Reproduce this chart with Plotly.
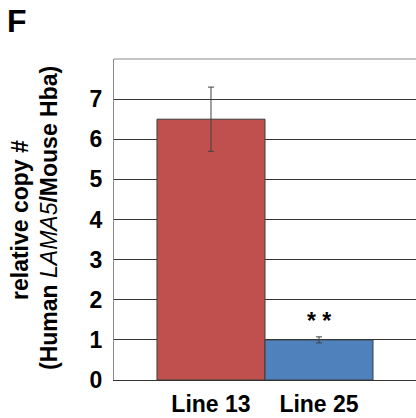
import plotly.graph_objects as go

categories = ["Line 13", "Line 25"]
values = [6.5, 1.0]
errors = [0.8, 0.075]
colors = ["#C0504D", "#4F81BD"]
y_ticks = [0, 1, 2, 3, 4, 5, 6, 7]

FONT = "Liberation Sans, Arial, sans-serif"

fig = go.Figure()
fig.add_trace(go.Bar(
    x=list(range(len(categories))),
    y=values,
    width=1.0,
    marker=dict(color=colors, line=dict(color="#3c3c3c", width=1)),
    error_y=dict(type="data", array=errors, visible=True, color="#404040", thickness=1, width=3),
    showlegend=False,
    hoverinfo="skip",
))

fig.update_layout(
    width=416, height=418,
    margin=dict(l=114, r=0, t=59, b=38),
    paper_bgcolor="white", plot_bgcolor="white",
    font=dict(family=FONT, color="black"),
    xaxis=dict(
        range=[-0.898, 1.898],
        tickvals=list(range(len(categories))),
        ticktext=categories,
        tickfont=dict(size=23, family=FONT, color="black", weight="bold"),
        showgrid=False, zeroline=False,
        showline=True, linecolor="#333333", linewidth=1,
        ticks="", ticklabelstandoff=3, automargin=False,
    ),
    yaxis=dict(
        range=[0, 8],
        tickvals=y_ticks,
        tickfont=dict(size=23, family=FONT, color="black", weight="bold"),
        showgrid=True, gridcolor="#333333", gridwidth=1,
        zeroline=False,
        showline=True, linecolor="#8a8a8a", linewidth=1,
        ticks="", ticklabelstandoff=6, automargin=False,
    ),
    shapes=[dict(type="line", xref="paper", yref="paper", x0=0, x1=1, y0=1, y1=1,
                 line=dict(color="#8a8a8a", width=1))],
    annotations=[
        dict(text="<b>F</b>", xref="paper", yref="paper", x=-114/302, y=1 + (59 - 21.5) / 321,
             xanchor="center", yanchor="middle", showarrow=False,
             font=dict(size=32, family=FONT, color="black"), xshift=17),
        dict(text="<b>relative copy #</b>", xref="paper", yref="paper",
             x=-114/302, xshift=20, y=(380 - 220) / 321, textangle=-90,
             xanchor="center", yanchor="middle", showarrow=False,
             font=dict(size=23, family=FONT, color="black")),
        dict(text="<b>(Human </b><i>LAMA5</i><b>/Mouse Hba)</b>", xref="paper", yref="paper",
             x=-114/302, xshift=49, y=(380 - 218) / 321, textangle=-90,
             xanchor="center", yanchor="middle", showarrow=False,
             font=dict(size=23, family=FONT, color="black")),
        dict(text="<b>* *</b>", x=1, y=1.47, xref="x", yref="y",
             xanchor="center", yanchor="middle", showarrow=False,
             font=dict(size=23, family=FONT, color="black")),
    ],
)

fig.write_html("out.html", config={"displayModeBar": False},
               post_script="document.body.style.margin='0px';")
